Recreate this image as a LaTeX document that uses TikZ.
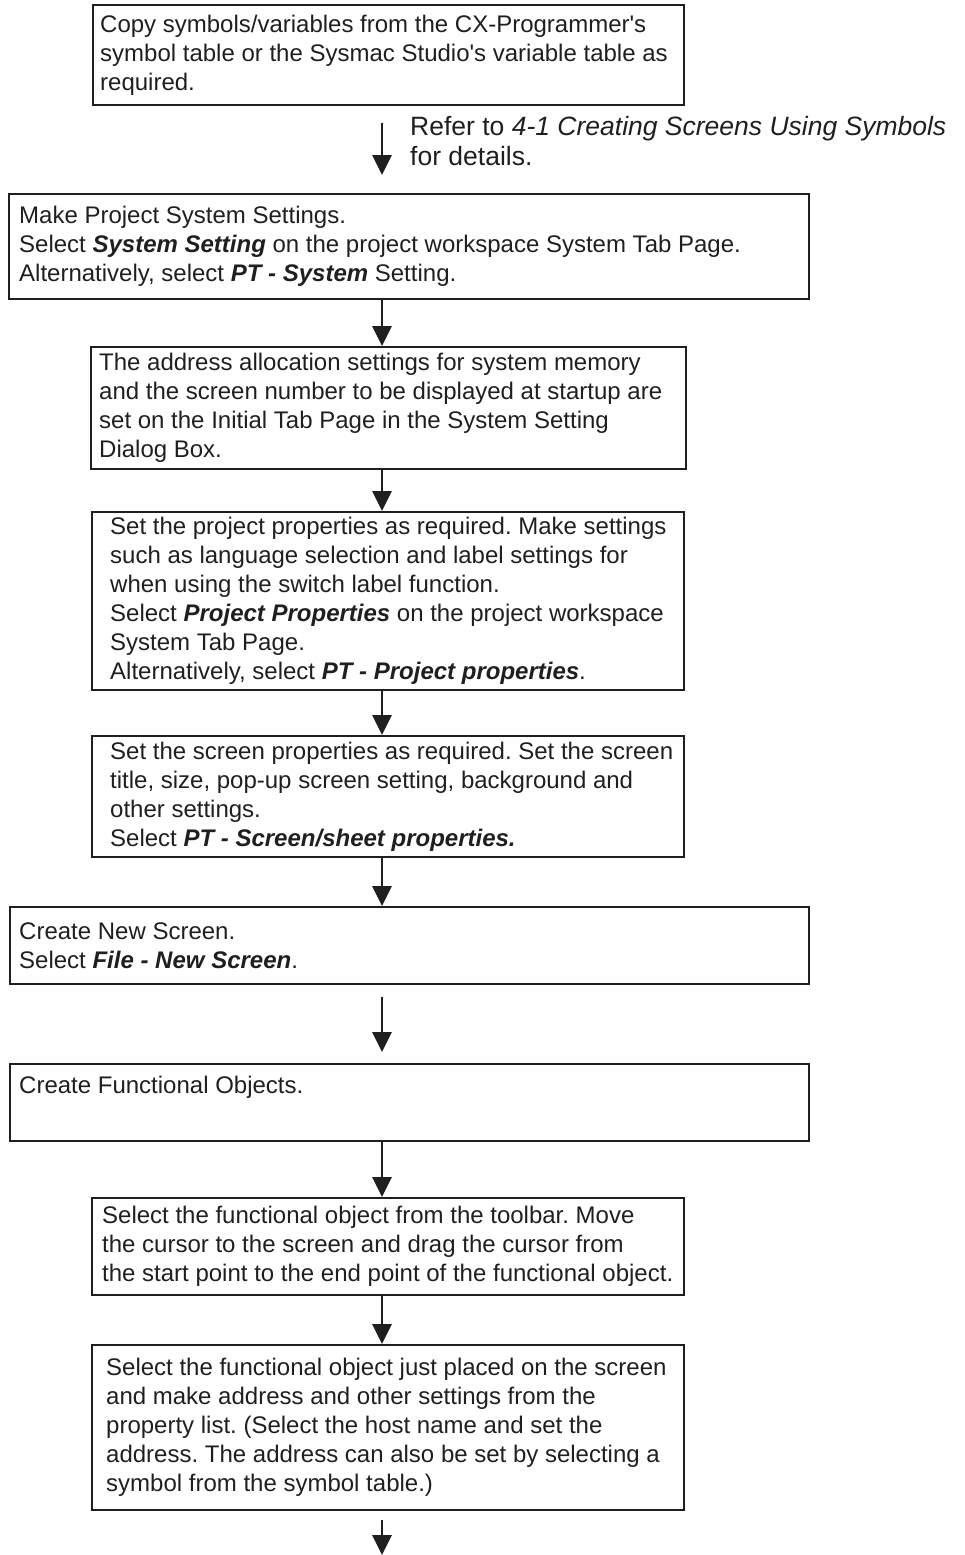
\documentclass[tikz,border=0pt]{standalone}
\usepackage{fontspec}
\newfontfamily\lsans{Liberation Sans}
\usetikzlibrary{arrows.meta}
\newcommand{\bi}[1]{\textbf{\textit{#1}}}
\frenchspacing
\begin{document}
\frenchspacing
\begin{tikzpicture}[x=1pt,y=-1pt,
  boxshape/.style={draw=black!88, line width=1.8pt, rectangle, inner sep=0pt, anchor=north west},
  txt/.style={font=\lsans\frenchspacing\fontsize{24}{29}\selectfont, align=left, inner sep=0pt, anchor=west, text=black!88},
  arr/.style={line width=2.8pt, draw=black!88, -{Triangle[width=19pt,length=20pt]}}]
\useasboundingbox (0,0) rectangle (965,1555);

% boxes
\node[boxshape, minimum width=591pt, minimum height=100pt] (b1) at (92,4) {};
\node[boxshape, minimum width=800pt, minimum height=105pt] (b2) at (8,193) {};
\node[boxshape, minimum width=595pt, minimum height=122pt] (b3) at (90,346) {};
\node[boxshape, minimum width=592pt, minimum height=178pt] (b4) at (91,511) {};
\node[boxshape, minimum width=592pt, minimum height=121pt] (b5) at (91,735) {};
\node[boxshape, minimum width=799pt, minimum height=77pt] (b6) at (9,906) {};
\node[boxshape, minimum width=799pt, minimum height=77pt] (b7) at (9,1063) {};
\node[boxshape, minimum width=592pt, minimum height=97pt] (b8) at (91,1197) {};
\node[boxshape, minimum width=592pt, minimum height=165pt] (b9) at (91,1344) {};

% texts
\node[txt] (t1) at ([xshift=8pt]b1.west) {Copy symbols/variables from the CX-Programmer's\\symbol table or the Sysmac Studio's variable table as\\required.};
\node[txt] (t2) at ([xshift=11pt]b2.west) {Make Project System Settings.\\Select \bi{System Setting} on the project workspace System Tab Page.\\Alternatively, select \bi{PT - System} Setting.};
\node[txt] (t3) at ([xshift=9pt]b3.west) {The address allocation settings for system memory\\and the screen number to be displayed at startup are\\set on the Initial Tab Page in the System Setting\\Dialog Box.};
\node[txt] (t4) at ([xshift=19pt]b4.west) {Set the project properties as required. Make settings\\such as language selection and label settings for\\when using the switch label function.\\Select \bi{Project Properties} on the project workspace\\System Tab Page.\\Alternatively, select \bi{PT - Project properties}.};
\node[txt] (t5) at ([xshift=19pt]b5.west) {Set the screen properties as required. Set the screen\\title, size, pop-up screen setting, background and\\other settings.\\Select \bi{PT - Screen/sheet properties.}};
\node[txt] (t6) at ([xshift=10pt]b6.west) {Create New Screen.\\Select \bi{File - New Screen}.};
\node[txt, anchor=base west] (t7) at (19,1093) {Create Functional Objects.};
\node[txt] (t8) at ([xshift=11pt]b8.west) {Select the functional object from the toolbar. Move\\the cursor to the screen and drag the cursor from\\the start point to the end point of the functional object.};
\node[txt] (t9) at ([xshift=15pt]b9.west) {Select the functional object just placed on the screen\\and make address and other settings from the\\property list. (Select the host name and set the\\address. The address can also be set by selecting a\\symbol from the symbol table.)};

\node[txt, anchor=north west, font=\lsans\frenchspacing\fontsize{26.5}{30}\selectfont] (ref) at (410,116.5) {Refer to \textit{4-1 Creating Screens Using Symbols}\\for details.};

% arrows
\coordinate (ax) at (382,0);
\coordinate (fin) at (382,1555);
\draw[arr, shorten <=17pt, shorten >=18pt] (b1.south -| ax) -- (b2.north -| ax);
\draw[arr] (b2.south -| ax) -- (b3.north -| ax);
\draw[arr] (b3.south -| ax) -- (b4.north -| ax);
\draw[arr] (b4.south -| ax) -- (b5.north -| ax);
\draw[arr] (b5.south -| ax) -- (b6.north -| ax);
\draw[arr, shorten <=12pt, shorten >=11pt] (b6.south -| ax) -- (b7.north -| ax);
\draw[arr] (b7.south -| ax) -- (b8.north -| ax);
\draw[arr] (b8.south -| ax) -- (b9.north -| ax);
\draw[arr, shorten <=9pt] (b9.south -| ax) -- (fin);
\end{tikzpicture}
\end{document}
